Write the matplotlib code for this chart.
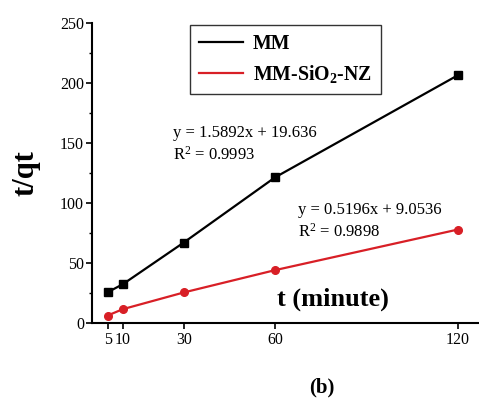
import numpy as np
import matplotlib
matplotlib.use("Agg")
import matplotlib.pyplot as plt
from matplotlib.ticker import MultipleLocator

# data
time_min = [5, 10, 30, 60, 120]
mm_tq = [25.8, 32.5, 67.2, 121.5, 206.5]
mm_sio2_tq = [6.4, 11.7, 25.6, 44.2, 78.0]
x_ticks = [5, 10, 30, 60, 120]

plt.rcParams["font.family"] = "Liberation Serif"
plt.rcParams["mathtext.fontset"] = "custom"
plt.rcParams["mathtext.rm"] = "Liberation Serif"
plt.rcParams["mathtext.it"] = "Liberation Serif:italic"
plt.rcParams["mathtext.bf"] = "Liberation Serif:bold"

red = "#d81f26"

fig = plt.figure(figsize=(4.79, 3.99), dpi=100)
ax = fig.add_axes([0.193, 0.19, 0.807, 0.752])

ax.plot(time_min, mm_tq, "-", color="black", lw=1.6, marker="s", ms=6,
        label="MM")
ax.plot(time_min, mm_sio2_tq, "-", color=red, lw=1.6, marker="o", ms=5.5,
        label=r"MM-SiO$_\mathbf{2}$-NZ")

ax.set_xlim(0, 127)
ax.set_ylim(0, 250)
ax.set_xticks(x_ticks)
ax.yaxis.set_major_locator(MultipleLocator(50))
ax.yaxis.set_minor_locator(MultipleLocator(25))
ax.tick_params(axis="both", direction="out", labelsize=11.5, width=1.2,
               length=4, pad=2)
ax.tick_params(axis="y", which="minor", direction="out", width=1.0, length=2.5)
for s in ["top", "right"]:
    ax.spines[s].set_visible(False)
for s in ["left", "bottom"]:
    ax.spines[s].set_linewidth(1.5)

ax.set_ylabel("t/qt", fontsize=22, fontweight="bold", labelpad=14)
ax.text(0.478, 0.078, "t (minute)", transform=ax.transAxes, fontsize=19,
        fontweight="bold", ha="left", va="center")
fig.text(0.672, 0.028, "(b)", fontsize=15, fontweight="bold",
         ha="center", va="center")

ax.text(26.5, 149, "y = 1.5892x + 19.636\nR$^2$ = 0.9993", fontsize=12,
        ha="left", va="center", linespacing=1.3)
ax.text(67.5, 85, "y = 0.5196x + 9.0536\nR$^2$ = 0.9898", fontsize=12,
        ha="left", va="center", linespacing=1.3)

leg = ax.legend(loc="upper left", bbox_to_anchor=(0.253, 0.993),
                borderaxespad=0, prop={"weight": "bold", "size": 14.3},
                frameon=True, fancybox=False, edgecolor="black",
                handlelength=2.2, handletextpad=0.5, borderpad=0.45,
                labelspacing=0.45)
leg.get_frame().set_linewidth(1.0)
for h in leg.legend_handles:
    h.set_marker("")

fig.savefig("out.png", dpi=100)
